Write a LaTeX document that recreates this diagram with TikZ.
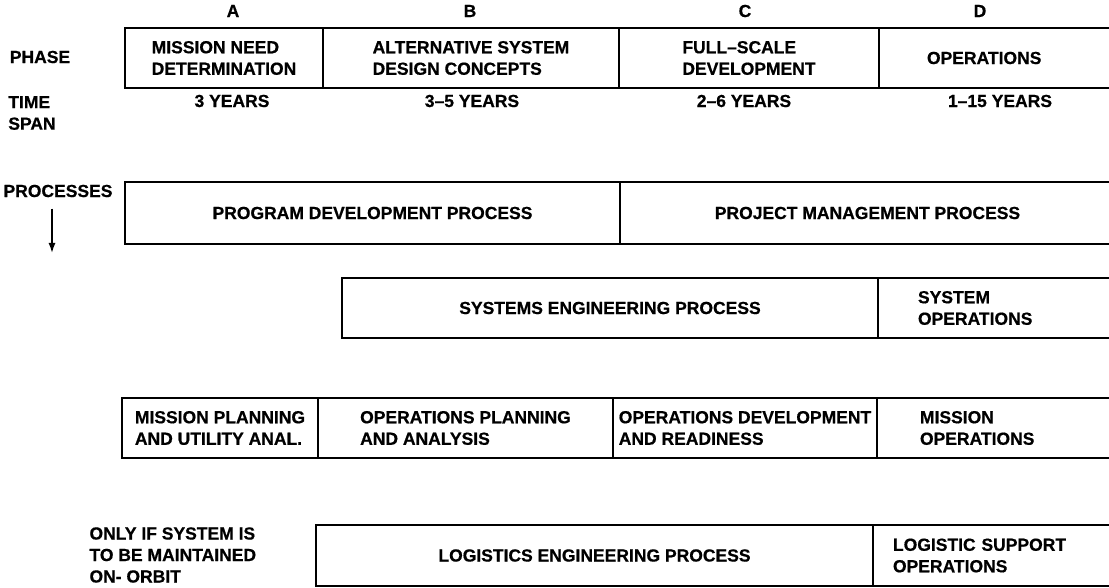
\documentclass[tikz,border=0pt]{standalone}
\usepackage{fontspec}
\setmainfont{Liberation Sans}[BoldFeatures={FakeBold=0.6}]
\usetikzlibrary{positioning,arrows.meta}
\tikzstyle{cell} = [rectangle, draw, line width=1.8pt, outer sep=0pt, inner sep=0pt, minimum height=60pt, align=left]
\tikzstyle{heavy} = [cell, line width=2.4pt]
\tikzstyle{side} = [align=left]
\tikzstyle{line} = [draw, line width=1.6pt, -{Latex[length=10pt,width=7pt]}]

\begin{document}
\begin{tikzpicture}[x=1pt,y=-1pt,font=\bfseries\fontsize{17.5}{21.5}\selectfont]
\useasboundingbox (0,0) rectangle (1109,588);

% phases
\node[cell,anchor=north west,minimum width=198pt](need) at (125,28){MISSION NEED\\DETERMINATION};
\node[cell,right=0pt of need,minimum width=296pt](concepts){ALTERNATIVE SYSTEM\\DESIGN CONCEPTS};
\node[cell,right=0pt of concepts,minimum width=260pt](fsd){FULL--SCALE\\DEVELOPMENT};
\node[cell,right=0pt of fsd,inner xsep=48pt,text width=144pt](ops){OPERATIONS};
\node(phA) at (233,11){A};
\node(phB) at (470,11){B};
\node(phC) at (745,11){C};
\node(phD) at (980,11){D};
\node[side](phase) at (40,57){PHASE};

% time span
\node[side](span) at (32,113){TIME\\SPAN};
\node(yrA) at (232,101){3 YEARS};
\node(yrB) at (472,101){3--5 YEARS};
\node(yrC) at (744,101){2--6 YEARS};
\node(yrD) at (1000,101){1--15 YEARS};

% processes
\node[cell,anchor=north west,minimum width=495pt,minimum height=62pt](program) at (125,182){PROGRAM DEVELOPMENT PROCESS};
\node[cell,right=0pt of program,minimum width=495pt,minimum height=62pt](project){PROJECT MANAGEMENT PROCESS};
\node[side](processes) at (58,191){PROCESSES};
\coordinate(down) at (52,253);
\path[line,shorten <=8pt](processes.south -| down) -- (down);

\node[cell,anchor=north west,minimum width=536pt](syseng) at (342,278){SYSTEMS ENGINEERING PROCESS};
\node[cell,right=0pt of syseng,inner xsep=40pt,text width=160pt](sysops){SYSTEM\\OPERATIONS};

\node[heavy,anchor=north west,minimum width=196pt](mpua) at (122,398){MISSION PLANNING\\AND UTILITY ANAL.};
\node[heavy,right=0pt of mpua,minimum width=295pt](opa){OPERATIONS PLANNING\\AND ANALYSIS};
\node[cell,right=0pt of opa,minimum width=264pt](odr){OPERATIONS DEVELOPMENT\\AND READINESS};
\node[cell,right=0pt of odr,inner xsep=43pt,text width=154pt](misops){MISSION\\OPERATIONS};

% logistics
\node[cell,anchor=north west,minimum width=557pt,minimum height=61pt](logeng) at (316,525){LOGISTICS ENGINEERING PROCESS};
\node[cell,right=0pt of logeng,inner xsep=20pt,text width=200pt,minimum height=61pt](logsup){LOGISTIC SUPPORT\\OPERATIONS};
\node[side,anchor=west](orbit) at (86,555){ONLY IF SYSTEM IS\\TO BE MAINTAINED\\ON- ORBIT};

\end{tikzpicture}
\end{document}
